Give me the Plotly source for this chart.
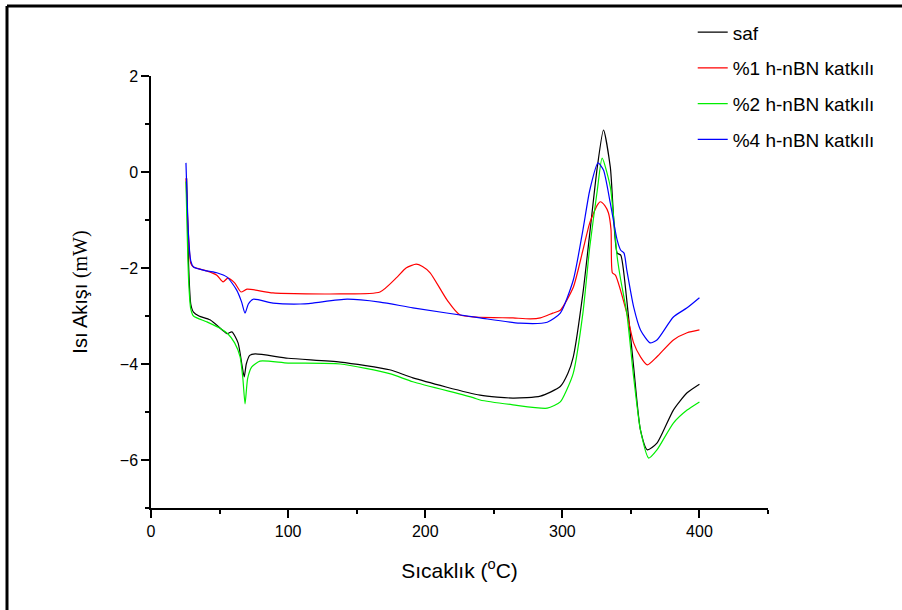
import plotly.graph_objects as go

# ---- data ----
saf_T = [26, 27.5, 29, 31, 35, 43, 52, 55.5, 59, 63.5, 66.5, 68, 69.5, 72, 76, 100, 138, 174,
         191, 240, 264, 284, 298.5, 304, 308, 315, 320, 325.5, 330, 335, 340, 342.6, 347, 352,
         357, 362, 369, 381, 391, 400]
saf_v = [-0.13, -2.0, -2.75, -2.92, -3.0, -3.08, -3.29, -3.37, -3.33, -3.56, -4.05, -4.27, -4.0,
         -3.82, -3.79, -3.88, -3.96, -4.12, -4.29, -4.65, -4.71, -4.67, -4.47, -4.2, -3.85, -2.53,
         -1.28, 0.1, 0.875, 0.1, -1.69, -1.73, -2.67, -4.06, -5.38, -5.79, -5.65, -4.96, -4.6, -4.42]

p1_T = [25.5, 27.5, 29, 31, 40.5, 48, 52.6, 56, 61, 65.7, 70, 89, 138, 167, 179.5, 186, 193.4,
        198, 203.6, 216, 225.5, 264, 276.6, 284, 293, 298.5, 308, 315, 320, 325.5, 327.7, 331,
        333.6, 335.5, 336.5, 338.7, 347, 352, 357, 362, 369, 381, 391, 400]
p1_v = [-0.13, -1.4, -1.9, -1.98, -2.06, -2.15, -2.29, -2.21, -2.31, -2.5, -2.44, -2.52, -2.54,
        -2.5, -2.19, -2.0, -1.92, -1.97, -2.1, -2.67, -2.98, -3.04, -3.06, -3.04, -2.94, -2.88,
        -2.4, -1.63, -1.06, -0.69, -0.62, -0.7, -0.85, -1.2, -2.1, -2.15, -2.94, -3.56, -3.85,
        -4.02, -3.85, -3.5, -3.35, -3.29]

p2_T = [25.5, 27.5, 29, 31, 40.5, 50, 56, 61, 65, 67, 68.6, 70.5, 73.5, 79.5, 100, 138, 174,
        191, 235, 240, 264, 289, 298.5, 303, 308, 315, 320, 325.5, 329, 335, 340, 342.6, 347,
        352, 357, 363, 369, 381, 391, 400]
p2_v = [-0.2, -2.3, -2.85, -3.0, -3.12, -3.25, -3.37, -3.56, -3.85, -4.3, -4.83, -4.3, -4.06,
        -3.94, -3.98, -4.0, -4.2, -4.37, -4.70, -4.75, -4.85, -4.92, -4.79, -4.55, -4.19, -2.94,
        -1.56, -0.38, 0.29, -0.31, -1.77, -2.25, -2.94, -4.27, -5.38, -5.96, -5.79, -5.23,
        -4.96, -4.79]

p4_T = [25.5, 27.5, 29, 31, 40.5, 48, 55.5, 62.5, 66, 68.6, 71, 74.5, 89, 108.7, 118, 143, 167,
        191, 240, 269, 289, 298.5, 308, 315, 320, 326, 330, 335, 340, 342.6, 345, 347, 352, 357,
        364, 369, 381, 391, 400]
p4_v = [0.19, -1.4, -1.85, -1.98, -2.06, -2.1, -2.19, -2.46, -2.7, -2.94, -2.75, -2.65, -2.73,
        -2.75, -2.73, -2.65, -2.71, -2.83, -3.04, -3.15, -3.13, -2.94, -2.25, -1.21, -0.38, 0.19,
        0.04, -0.65, -1.42, -1.63, -1.69, -2.04, -2.81, -3.29, -3.56, -3.5, -3.02, -2.83, -2.62]

series = [
    ("saf", saf_T, saf_v, "#000000"),
    ("%1 h-nBN katkılı", p1_T, p1_v, "#ff0000"),
    ("%2 h-nBN katkılı", p2_T, p2_v, "#00ee00"),
    ("%4 h-nBN katkılı", p4_T, p4_v, "#0000ff"),
]

x_tickvals = [0, 100, 200, 300, 400]
y_tickvals = [-6, -4, -2, 0, 2]

FONT = "Arial, Liberation Sans, sans-serif"

fig = go.Figure()
for i, (name, xs, ys, col) in enumerate(series):
    fig.add_trace(go.Scatter(
        x=xs, y=ys, name=name, mode="lines", legendgroup=f"g{i}",
        line=dict(color=col, width=1.2, shape="spline", smoothing=0.6),
    ))

fig.update_layout(
    width=902, height=610,
    margin=dict(l=151, r=134, t=76, b=102),
    paper_bgcolor="white", plot_bgcolor="white",
    font=dict(family=FONT, color="black", size=16),
    showlegend=True,
    legend=dict(x=0.878, y=1.145, xanchor="left", yanchor="top",
                font=dict(size=19, family=FONT), bgcolor="rgba(0,0,0,0)",
                tracegroupgap=8, itemwidth=30),
    xaxis=dict(
        range=[0, 450], tickvals=x_tickvals, showgrid=False, zeroline=False,
        showline=True, linecolor="black", linewidth=1.5,
        ticks="outside", ticklen=8, tickwidth=1.5, tickcolor="black",
        minor=dict(dtick=50, tick0=0, ticks="outside", ticklen=4, tickwidth=1.5, tickcolor="black"),
        tickfont=dict(size=16),
        title=dict(text="Sıcaklık (<sup>o</sup>C)", font=dict(size=21), standoff=24),
    ),
    yaxis=dict(
        range=[-7, 2], tickvals=y_tickvals, showgrid=False, zeroline=False,
        showline=True, linecolor="black", linewidth=1.5,
        ticks="outside", ticklen=8, tickwidth=1.5, tickcolor="black",
        minor=dict(dtick=1, tick0=-7, ticks="outside", ticklen=4, tickwidth=1.5, tickcolor="black"),
        tickfont=dict(size=16),
        title=dict(text="Isı Akışı <span style=\"font-family:Liberation Serif,serif\">(mW)</span>",
                   font=dict(size=20), standoff=27),
    ),
)

# outer frame (only left and top edges are visible in the reference)
fig.add_shape(type="line", xref="paper", yref="paper",
              x0=(7 - 151) / 617, x1=(910 - 151) / 617, y0=(508 - 6) / 432, y1=(508 - 6) / 432,
              line=dict(color="black", width=3))
fig.add_shape(type="line", xref="paper", yref="paper",
              x0=(7 - 151) / 617, x1=(7 - 151) / 617, y0=(508 - 620) / 432, y1=(508 - 6) / 432,
              line=dict(color="black", width=3))

fig.write_html("out.html")
